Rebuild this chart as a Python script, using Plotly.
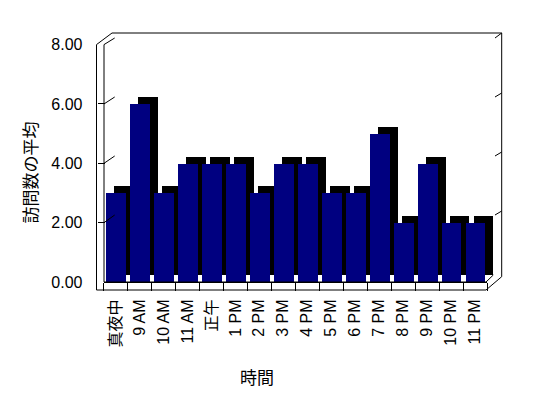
import plotly.graph_objects as go

# ---- data ----
categories = ["真夜中", "9 AM", "10 AM", "11 AM", "正午", "1 PM", "2 PM", "3 PM",
              "4 PM", "5 PM", "6 PM", "7 PM", "8 PM", "9 PM", "10 PM", "11 PM"]
avg_visits = [3, 6, 3, 4, 4, 4, 3, 4, 4, 3, 3, 5, 2, 4, 2, 2]
y_ticks = [0, 2, 4, 6, 8]
x_title = "時間"
y_title = "訪問数の平均"

# ---- geometry helpers (screen pixels -> paper) ----
W, H = 548, 398
OFF = 8  # page body margin offset of the figure on screen
def fx(p):
    return (p - OFF) / W
def fy(p):
    return 1 - (p - OFF) / H

FRONT_Y0, FRONT_Y8 = 282.0, 44.6      # front plane (value 0 / 8)
BACK_Y0, BACK_Y8 = 274.0, 38.0        # back wall
DEPTH_DX, DEPTH_DY = 8, 7             # bar depth offset
X_LEFT, X_RIGHT = 103.5, 487.0        # category band on front plane
WALL_OUT, WALL_IN, BACK_L = 96.5, 104.0, 114.7
BACK_R, BACK_R_OUT = 495.0, 501.7
FLOOR_BOT = 290.0
YMAX = 8

def front_y(v):
    return FRONT_Y0 - v * (FRONT_Y0 - FRONT_Y8) / YMAX
def back_y(v):
    return BACK_Y0 - v * (BACK_Y0 - BACK_Y8) / YMAX

font_main = "Liberation Sans, Arial, Noto Sans CJK JP, sans-serif"
font_cjk = "Noto Sans CJK JP, sans-serif"

fig = go.Figure()

# black depth (top + side) of each bar
fig.add_trace(go.Bar(x=categories, y=avg_visits, xaxis="x2", yaxis="y2",
                     marker=dict(color="#000000", line=dict(width=0)),
                     width=0.83, hoverinfo="skip", showlegend=False))
# navy front faces
fig.add_trace(go.Bar(x=categories, y=avg_visits, xaxis="x3", yaxis="y3",
                     marker=dict(color="#000080", line=dict(width=0)),
                     width=0.83, showlegend=False))

ln = dict(color="black", width=1)
shapes = []
def seg(x0, y0, x1, y1):
    shapes.append(dict(type="line", xref="paper", yref="paper",
                       x0=fx(x0), y0=fy(y0), x1=fx(x1), y1=fy(y1), line=ln))

# left wall slab
seg(WALL_OUT, FRONT_Y8, WALL_OUT, FLOOR_BOT)
seg(WALL_IN, FRONT_Y8, WALL_IN, FRONT_Y0)
seg(WALL_OUT, FRONT_Y8, 112, 33)
seg(WALL_IN, FRONT_Y8, BACK_L, BACK_Y8)
for v in y_ticks[1:-1]:
    seg(WALL_IN, front_y(v), BACK_L, back_y(v))
    seg(BACK_R, back_y(v), BACK_R_OUT, back_y(v) - 4)
# back wall outer edges
seg(112, 33, BACK_R_OUT, 33)
seg(BACK_R_OUT, 33, BACK_R_OUT, 276.7)
seg(BACK_R_OUT, 33, BACK_R, BACK_Y8)
# floor
seg(WALL_OUT, FLOOR_BOT, 486, FLOOR_BOT)
seg(WALL_IN, FRONT_Y0, 486, FRONT_Y0)
seg(486, FRONT_Y0, 493.3, 275)
seg(486, FLOOR_BOT, BACK_R_OUT, 276.7)

fig.update_layout(
    template="none",
    width=W, height=H,
    margin=dict(l=0, r=0, t=0, b=0, pad=0, autoexpand=False),
    paper_bgcolor="white", plot_bgcolor="rgba(0,0,0,0)",
    font=dict(family=font_main, size=16, color="black"),
    bargap=0,
    # back wall
    xaxis=dict(domain=[fx(BACK_L), fx(BACK_R)], range=[0, 1], showgrid=False,
               showticklabels=False, ticks="", zeroline=False, automargin=False,
               showline=True, mirror=True, linecolor="black", linewidth=1,
               layer="below traces", anchor="y"),
    yaxis=dict(domain=[fy(BACK_Y0), fy(BACK_Y8)], range=[0, YMAX],
               tickvals=y_ticks, showgrid=True, gridcolor="black", gridwidth=1,
               showticklabels=False, ticks="", zeroline=False, automargin=False,
               showline=True, mirror=True, linecolor="black", linewidth=1,
               layer="below traces", anchor="x"),
    # depth bars
    xaxis2=dict(domain=[fx(X_LEFT + DEPTH_DX), fx(X_RIGHT + DEPTH_DX)],
                range=[-0.5, len(categories) - 0.5], visible=False, anchor="y2",
                automargin=False),
    yaxis2=dict(domain=[fy(FRONT_Y0 - DEPTH_DY), fy(FRONT_Y8 - DEPTH_DY)],
                range=[0, YMAX], visible=False, anchor="x2", automargin=False),
    # front bars + labels
    xaxis3=dict(domain=[fx(X_LEFT), fx(X_RIGHT)], range=[-0.5, len(categories) - 0.5],
                anchor="y3", tickangle=-90, showgrid=False, zeroline=False,
                showline=True, linecolor="black", linewidth=1, automargin=False,
                ticks="outside", tickson="boundaries", ticklen=8, tickcolor="black",
                ticklabelstandoff=10,
                tickfont=dict(family=font_main, size=16)),
    yaxis3=dict(domain=[fy(FRONT_Y0), fy(FRONT_Y8)], range=[0, YMAX],
                anchor="free", position=fx(WALL_OUT), side="left", automargin=False,
                tickvals=y_ticks, tickformat=".2f", showgrid=False, zeroline=False,
                ticks="inside", ticklen=int(WALL_IN - WALL_OUT), tickcolor="black",
                showline=False, ticklabelstandoff=14,
                tickfont=dict(family=font_main, size=16)),
    shapes=shapes,
    annotations=[
        dict(text=x_title, xref="paper", yref="paper", x=fx(257), y=fy(376),
             xanchor="center", yanchor="middle",
             showarrow=False, font=dict(family=font_cjk, size=17)),
        dict(text=y_title, xref="paper", yref="paper", x=fx(29.5), y=fy(173),
             xanchor="center", yanchor="middle",
             showarrow=False, textangle=-90, font=dict(family=font_cjk, size=17)),
    ],
)

fig.write_html("out.html")
